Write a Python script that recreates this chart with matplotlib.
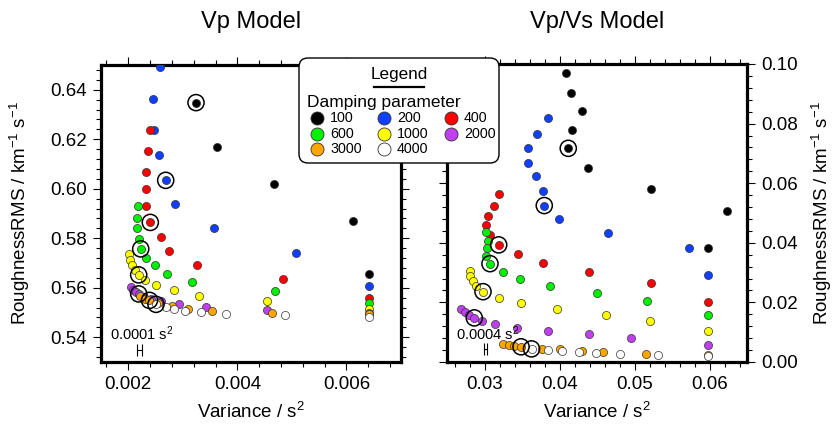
"""
L-curve trade-off plot: model roughness vs data variance for a range of
damping parameters, for the Vp and the Vp/Vs inversions.
"""

import matplotlib
matplotlib.use("Agg")
import matplotlib.pyplot as plt
from matplotlib.ticker import MultipleLocator, FormatStrFormatter
from matplotlib.patches import FancyBboxPatch

plt.rcParams['font.family'] = ['Liberation Sans', 'DejaVu Sans']
plt.rcParams['mathtext.fontset'] = 'custom'
plt.rcParams['mathtext.rm'] = 'Liberation Sans'
plt.rcParams['mathtext.it'] = 'Liberation Sans:italic'

# CONFIG
DAMPING = [100, 200, 400, 600, 1000, 2000, 3000, 4000]
COLORS = ['#000000', '#1040ff', '#ff0000', '#00f000',
          '#ffff00', '#c040f0', '#ffa500', '#ffffff']

# Vp model: variance (s^2) and roughness RMS per damping value
vp_var_100 = [0.003242, 0.003621, 0.004672, 0.006126, 0.006413]
vp_rms_100 = [0.6348, 0.6170, 0.6020, 0.5871, 0.5656]
vp_var_200 = [0.002576, 0.002459, 0.002477, 0.002558, 0.002686, 0.002851, 0.003577, 0.005069, 0.006413]
vp_rms_200 = [0.6493, 0.6363, 0.6239, 0.6138, 0.6034, 0.5937, 0.5840, 0.5739, 0.5606]
vp_var_400 = [0.002398, 0.002356, 0.002325, 0.002330, 0.002325, 0.002404, 0.002594, 0.002752, 0.003265, 0.004837, 0.006413]
vp_rms_400 = [0.6237, 0.6151, 0.6069, 0.5999, 0.5929, 0.5864, 0.5806, 0.5749, 0.5693, 0.5634, 0.5560]
vp_var_600 = [0.002173, 0.002160, 0.002160, 0.002191, 0.002228, 0.002319, 0.002484, 0.002704, 0.003168, 0.004690, 0.006413]
vp_rms_600 = [0.5929, 0.5882, 0.5840, 0.5797, 0.5757, 0.5721, 0.5693, 0.5657, 0.5624, 0.5587, 0.5537]
vp_var_1000 = [0.002019, 0.002037, 0.002068, 0.002118, 0.002191, 0.002301, 0.002514, 0.002844, 0.003291, 0.004543, 0.006413]
vp_rms_1000 = [0.5736, 0.5712, 0.5692, 0.5672, 0.5652, 0.5631, 0.5611, 0.5591, 0.5568, 0.5546, 0.5515]
vp_var_2000 = [0.002044, 0.002087, 0.002142, 0.002191, 0.002288, 0.002417, 0.002609, 0.002939, 0.003425, 0.004543, 0.006413]
vp_rms_2000 = [0.5604, 0.5591, 0.5583, 0.5575, 0.5564, 0.5555, 0.5547, 0.5534, 0.5523, 0.5510, 0.5499]
vp_var_3000 = [0.002215, 0.002307, 0.002389, 0.002545, 0.002807, 0.003100, 0.003529, 0.004629, 0.006413]
vp_rms_3000 = [0.5567, 0.5556, 0.5549, 0.5538, 0.5526, 0.5514, 0.5507, 0.5499, 0.5492]
vp_var_4000 = [0.002508, 0.002692, 0.002833, 0.003040, 0.003333, 0.003792, 0.004868, 0.006413]
vp_rms_4000 = [0.5533, 0.5521, 0.5514, 0.5507, 0.5502, 0.5495, 0.5489, 0.5481]
vp_pick = [0, 4, 5, 4, 4, 3, 2, 0]   # index of the preferred point per damping

# Vp/Vs model
vpvs_var_100 = [0.04087, 0.04153, 0.04300, 0.04171, 0.04117, 0.04376, 0.05216, 0.06237, 0.05976]
vpvs_rms_100 = [0.0969, 0.0903, 0.0842, 0.0778, 0.0717, 0.0652, 0.0580, 0.0507, 0.0382]
vpvs_var_200 = [0.03843, 0.03700, 0.03584, 0.03576, 0.03687, 0.03780, 0.03797, 0.03989, 0.04651, 0.05731, 0.05976]
vpvs_rms_200 = [0.0819, 0.0766, 0.0719, 0.0669, 0.0624, 0.0575, 0.0525, 0.0479, 0.0433, 0.0383, 0.0292]
vpvs_var_400 = [0.03189, 0.03131, 0.03043, 0.03020, 0.03073, 0.03189, 0.03447, 0.03776, 0.04393, 0.05224, 0.05976]
vpvs_rms_400 = [0.0563, 0.0523, 0.0491, 0.0459, 0.0425, 0.0393, 0.0362, 0.0333, 0.0301, 0.0265, 0.0202]
vpvs_var_600 = [0.03020, 0.03043, 0.03029, 0.03020, 0.03073, 0.03247, 0.03477, 0.03867, 0.04500, 0.05171, 0.05976]
vpvs_rms_600 = [0.0435, 0.0407, 0.0382, 0.0356, 0.0330, 0.0303, 0.0280, 0.0256, 0.0231, 0.0206, 0.0159]
vpvs_var_1000 = [0.02804, 0.02811, 0.02844, 0.02887, 0.02980, 0.03191, 0.03489, 0.03969, 0.04616, 0.05211, 0.05976]
vpvs_rms_1000 = [0.0306, 0.0289, 0.0271, 0.0255, 0.0236, 0.0215, 0.0197, 0.0178, 0.0159, 0.0139, 0.0105]
vpvs_var_2000 = [0.02693, 0.02740, 0.02793, 0.02864, 0.02971, 0.03140, 0.03433, 0.03840, 0.04391, 0.04956, 0.05976]
vpvs_rms_2000 = [0.0179, 0.0167, 0.0157, 0.0148, 0.0137, 0.0127, 0.0114, 0.0104, 0.0093, 0.0081, 0.0058]
vpvs_var_3000 = [0.03251, 0.03324, 0.03397, 0.03487, 0.03769, 0.04013, 0.04296, 0.04584, 0.05149, 0.05976]
vpvs_rms_3000 = [0.0060, 0.0057, 0.0054, 0.0051, 0.0045, 0.0042, 0.0038, 0.0033, 0.0028, 0.0023]
vpvs_var_4000 = [0.03627, 0.03853, 0.04037, 0.04256, 0.04484, 0.04811, 0.05316, 0.05976]
vpvs_rms_4000 = [0.0044, 0.0040, 0.0037, 0.0034, 0.0030, 0.0026, 0.0022, 0.0019]
vpvs_pick = [4, 6, 5, 4, 4, 3, 3, 0]

vp_var = [vp_var_100, vp_var_200, vp_var_400, vp_var_600, vp_var_1000, vp_var_2000, vp_var_3000, vp_var_4000]
vp_rms = [vp_rms_100, vp_rms_200, vp_rms_400, vp_rms_600, vp_rms_1000, vp_rms_2000, vp_rms_3000, vp_rms_4000]
vpvs_var = [vpvs_var_100, vpvs_var_200, vpvs_var_400, vpvs_var_600, vpvs_var_1000, vpvs_var_2000, vpvs_var_3000, vpvs_var_4000]
vpvs_rms = [vpvs_rms_100, vpvs_rms_200, vpvs_rms_400, vpvs_rms_600, vpvs_rms_1000, vpvs_rms_2000, vpvs_rms_3000, vpvs_rms_4000]

YLABEL = r'RoughnessRMS / km$^{-1}$ s$^{-1}$'
XLABEL = r'Variance / s$^{2}$'

fig = plt.figure(figsize=(8.36, 4.29), dpi=100)
W, H = 836, 429


def panel(rect_px, title, xs, ys, picks, xlim, ylim, xmaj, xmin, ymaj, ymin,
          xfmt, yfmt, side, bar_width, bar_text):
    x0, y0, x1, y1 = rect_px
    ax = fig.add_axes([x0 / W, (H - y1) / H, (x1 - x0) / W, (y1 - y0) / H])
    for vx, vy, col in zip(xs, ys, COLORS):
        ax.scatter(vx, vy, s=34, c=col, edgecolors='#333333', linewidths=0.5, zorder=3)
    for vx, vy, p in zip(xs, ys, picks):
        ax.scatter(vx[p], vy[p], s=135, facecolors='none', edgecolors='black',
                   linewidths=1.1, zorder=4)
    ax.set_xlim(*xlim); ax.set_ylim(*ylim)
    ax.xaxis.set_major_locator(MultipleLocator(xmaj))
    ax.xaxis.set_minor_locator(MultipleLocator(xmin))
    ax.yaxis.set_major_locator(MultipleLocator(ymaj))
    ax.yaxis.set_minor_locator(MultipleLocator(ymin))
    ax.xaxis.set_major_formatter(FormatStrFormatter(xfmt))
    ax.yaxis.set_major_formatter(FormatStrFormatter(yfmt))
    for sp in ax.spines.values():
        sp.set_linewidth(2.3)
    ax.tick_params(which='both', direction='out', top=True, right=True,
                   width=0.8, labelsize=13.5, pad=4)
    ax.tick_params(which='major', length=6)
    ax.tick_params(which='minor', length=3.5)
    if side == 'right':
        ax.tick_params(labelleft=False, labelright=True)
        ax.yaxis.set_label_position('right')
        ax.set_ylabel(YLABEL, fontsize=13.5, rotation=90)
        ax.yaxis.set_label_coords((822 - x0) / (x1 - x0), 0.5)
    else:
        ax.set_ylabel(YLABEL, fontsize=13.5)
        ax.yaxis.set_label_coords((20 - x0) / (x1 - x0), 0.5)
    ax.yaxis.label.set_va('center')
    ax.set_xlabel(XLABEL, fontsize=13.5)
    ax.xaxis.set_label_coords(0.5, (y1 - 412) / (y1 - y0))
    ax.xaxis.label.set_va('center')
    ax.text(0.5, (y1 - 22) / (y1 - y0), title, transform=ax.transAxes,
            ha='center', va='center', fontsize=17)

    # variance scale bar
    ax.text(0.03, 0.095, bar_text, transform=ax.transAxes, ha='left',
            va='center', fontsize=10.5)
    bx = xlim[0] + 0.128 * (xlim[1] - xlim[0])
    by = ylim[0] + 0.042 * (ylim[1] - ylim[0])
    ax.errorbar([bx], [by], xerr=[bar_width / 2], fmt='none', ecolor='black',
                elinewidth=0.8, capsize=4.5, capthick=0.8)
    return ax


panel((101, 65, 401, 362), 'Vp Model', vp_var, vp_rms, vp_pick,
      (0.0015, 0.007), (0.53, 0.65), 0.002, 0.0004, 0.02, 0.004,
      '%.3f', '%.2f', 'left', 0.0001, r'0.0001 s$^{2}$')
panel((447, 64, 747, 362), 'Vp/Vs Model', vpvs_var, vpvs_rms, vpvs_pick,
      (0.025, 0.065), (0.0, 0.1), 0.01, 0.002, 0.02, 0.004,
      '%.2f', '%.2f', 'right', 0.0004, r'0.0004 s$^{2}$')

# legend box drawn in its own pixel-scaled axes
lx0, ly0, lx1, ly1 = 298, 57, 500, 164
lax = fig.add_axes([lx0 / W, (H - ly1) / H, (lx1 - lx0) / W, (ly1 - ly0) / H])
lax.set_xlim(0, lx1 - lx0); lax.set_ylim(ly1 - ly0, 0); lax.axis('off')
lax.add_patch(FancyBboxPatch((1, 1), lx1 - lx0 - 2, ly1 - ly0 - 2,
                             boxstyle='round,pad=0,rounding_size=9',
                             fc='white', ec='black', lw=1.0, clip_on=False))
lax.text(101, 18, 'Legend', ha='center', va='center', fontsize=12.3)
lax.plot([76, 126], [30, 30], color='black', lw=1.6)
lax.text(9, 45, 'Damping parameter', ha='left', va='center', fontsize=12.5)
for i, (d, col) in enumerate(zip(DAMPING, COLORS)):
    cx = 19 + 67 * (i % 3)
    cy = 61 + 15.5 * (i // 3)
    lax.scatter([cx], [cy], s=88, c=col, edgecolors='#333333', linewidths=0.6)
    lax.text(cx + 13, cy, str(d), ha='left', va='center', fontsize=10.3)

plt.savefig("out.png", dpi=100)
